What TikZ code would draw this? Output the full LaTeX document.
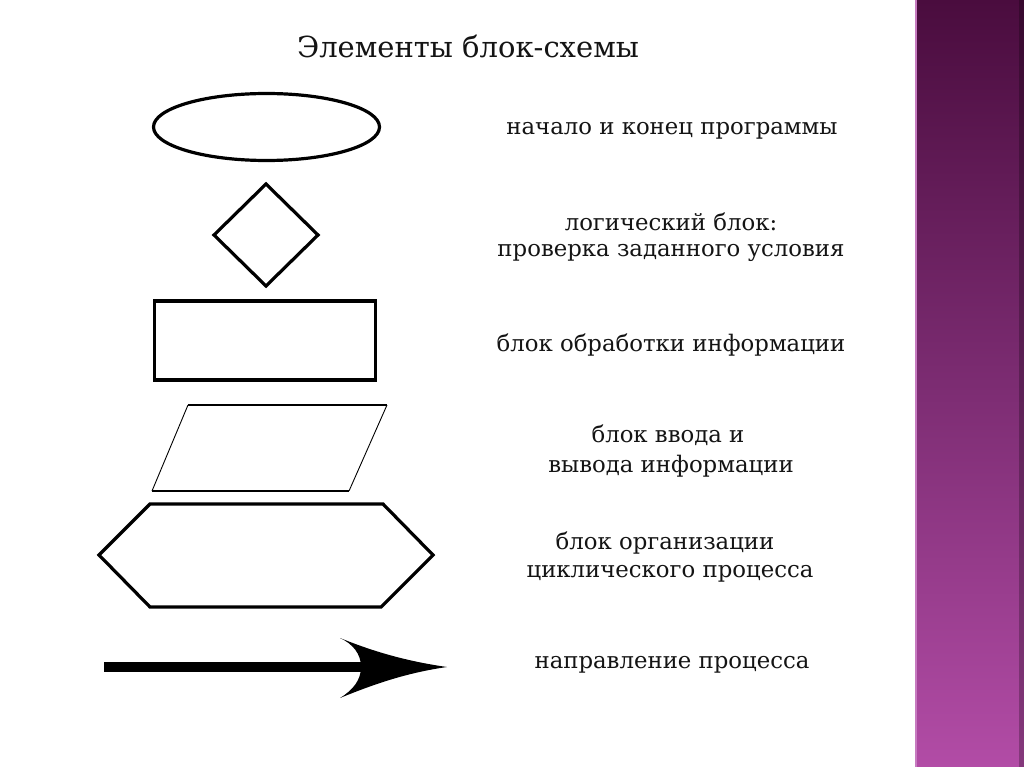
\documentclass[tikz,border=0pt]{standalone}
\usepackage{fontspec}
\setmainfont{DejaVu Serif}
\usetikzlibrary{shapes.geometric}
\definecolor{txt}{HTML}{141414}
\definecolor{bartop}{HTML}{4A0C3E}
\definecolor{barmid}{HTML}{7C2C72}
\definecolor{barbot}{HTML}{B24CA6}
\definecolor{baredge}{HTML}{C77BC0}
\tikzset{
  shapeline/.style={draw=black, line width=3.2pt, fill=white},
  label/.style={text=txt, font=\fontsize{22.8}{27}\selectfont, align=center, inner sep=0pt},
  titlestyle/.style={text=txt, font=\fontsize{29}{34}\selectfont, inner sep=0pt}
}
\begin{document}
\begin{tikzpicture}[x=1pt,y=-1pt]
\useasboundingbox (0,0) rectangle (1024,767);
\fill[white] (0,0) rectangle (1024,767);
% purple side bar
\shade[top color=bartop, bottom color=barbot, middle color=barmid] (915,0) rectangle (1024,767);
\fill[baredge] (915,0) rectangle (917,767);
\fill[black, opacity=0.25] (1019,0) rectangle (1024,767);

% title
\node[titlestyle] (title) at (468,46) {Элементы блок-схемы};

% shapes
\node[shapeline, ellipse, minimum width=226pt, minimum height=67pt, inner sep=0pt] (term) at (266.5,127) {};
\draw[black, line width=3.2pt, fill=white, line join=miter] (266,184) -- (318,235) -- (266,286) -- (214,235) -- cycle;
\coordinate (dec) at (266,235);
\node[shapeline, rectangle, minimum width=221pt, minimum height=79pt, inner sep=0pt] (proc) at (265,340.5) {};
% parallelogram
\draw[black, line width=0.9pt] (188,405) -- (152,491);
\draw[black, line width=0.9pt] (387,405) -- (349,491);
\draw[black, line width=2pt] (188,405) -- (387,405);
\draw[black, line width=2pt] (152,491) -- (349,491);
\coordinate (io) at (269,448);
% hexagon
\draw[black, line width=3.2pt, line join=miter] (150,504) -- (383,504) -- (433,555) -- (381,607) -- (150,607) -- (99,555) -- cycle;
\coordinate (loop) at (266,555);
% arrow
\fill[black] (104,662) rectangle (362,672);
\fill[black] (340,638) .. controls (372,651) and (405,661) .. (447,667)
  .. controls (405,673) and (372,685) .. (340,698)
  .. controls (353,690) and (361,680) .. (361,667)
  .. controls (361,654) and (353,644) .. (340,638) -- cycle;
\coordinate (flow) at (275,667);

% labels
\node[label] (l1) at (672,131) {начало и конец программы};
\node[label] (l2a) at (671,222) {логический блок:};
\node[label] (l2b) at (671,253) {проверка заданного условия};
\node[label] (l3) at (671,345) {блок обработки информации};
\node[label] (l4a) at (668,435) {блок ввода и};
\node[label] (l4b) at (671,466) {вывода информации};
\node[label] (l5a) at (665,543) {блок организации};
\node[label] (l5b) at (670,574) {циклического процесса};
\node[label] (l6) at (672,665) {направление процесса};
\end{tikzpicture}
\end{document}
